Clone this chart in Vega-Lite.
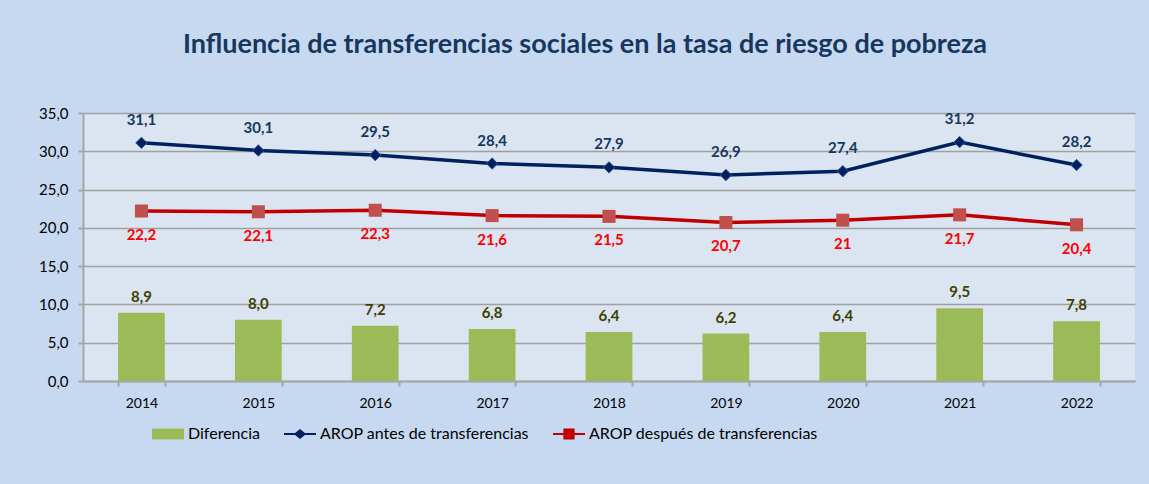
{
  "$schema": "https://vega.github.io/schema/vega-lite/v6.json",
  "width": 1052,
  "height": 268,
  "autosize": {"type": "none"},
  "padding": {"left": 83, "top": 113, "right": 14, "bottom": 103},
  "background": "#c6d9f0",
  "config": {
    "locale": {"number": {"decimal": ",", "thousands": ".", "grouping": [3], "currency": ["", " €"]}},
    "view": {"fill": "#dbe5f1", "stroke": null},
    "font": "Lato",
    "axisY": {
      "title": null,
      "format": ".1f",
      "labelOverlap": false,
      "labelFontSize": 15,
      "labelColor": "#000000",
      "labelPadding": 10,
      "gridColor": "#a0a0a0",
      "gridWidth": 1.5,
      "domainColor": "#a6a6a6",
      "domainWidth": 2,
      "tickColor": "#a6a6a6",
      "tickWidth": 2,
      "tickSize": 5
    }
  },
  "title": {
    "text": "Influencia de transferencias sociales en la tasa de riesgo de pobreza",
    "fontSize": 27,
    "fontWeight": "bold",
    "color": "#17375e",
    "anchor": "middle",
    "dx": -24,
    "offset": 47,
    "font": "Lato"
  },
  "data": {
    "values": [
      {"year": "2014", "diferencia": 8.9, "antes": 31.1, "despues": 22.2},
      {"year": "2015", "diferencia": 8.0, "antes": 30.1, "despues": 22.1},
      {"year": "2016", "diferencia": 7.2, "antes": 29.5, "despues": 22.3},
      {"year": "2017", "diferencia": 6.8, "antes": 28.4, "despues": 21.6},
      {"year": "2018", "diferencia": 6.4, "antes": 27.9, "despues": 21.5},
      {"year": "2019", "diferencia": 6.2, "antes": 26.9, "despues": 20.7},
      {"year": "2020", "diferencia": 6.4, "antes": 27.4, "despues": 21.0},
      {"year": "2021", "diferencia": 9.5, "antes": 31.2, "despues": 21.7},
      {"year": "2022", "diferencia": 7.8, "antes": 28.2, "despues": 20.4}
    ]
  },
  "encoding": {
    "x": {
      "field": "year",
      "type": "ordinal",
      "scale": {"paddingInner": 0.6, "paddingOuter": 0.3},
      "axis": {
        "title": null,
        "labelAngle": 0,
        "labelFontSize": 14,
        "labelColor": "#000000",
        "labelPadding": 10,
        "domainColor": "#a6a6a6",
        "domainWidth": 2,
        "tickColor": "#a6a6a6",
        "tickWidth": 2,
        "tickSize": 5,
        "tickBand": "extent",
        "grid": false
      }
    }
  },
  "layer": [
    {
      "mark": {"type": "bar"},
      "encoding": {
        "y": {
          "field": "diferencia",
          "type": "quantitative",
          "scale": {"domain": [0, 35]},
          "axis": {"values": [0, 5, 10, 15, 20, 25, 30, 35]}
        },
        "color": {
          "datum": "Diferencia",
          "scale": {
            "domain": ["Diferencia", "AROP antes de transferencias", "AROP después de transferencias"],
            "range": ["#9bbb59", "#002060", "#c00000"]
          },
          "legend": {
            "orient": "none",
            "legendX": 69,
            "legendY": 305,
            "direction": "horizontal",
            "title": null,
            "labelFontSize": 16,
            "labelLimit": 400,
            "labelColor": "#000000",
            "labelFont": "Lato",
            "labelOffset": 4,
            "columnPadding": 24,
            "symbolSize": 1024,
            "symbolStrokeWidth": 0,
            "encode": {
              "symbols": {
                "update": {
                  "shape": {"signal": "datum.value === 'Diferencia' ? 'M-1,-0.34H1V0.34H-1Z' : (datum.value === 'AROP antes de transferencias' ? 'M-1,-0.07H-0.31L0,-0.31L0.31,-0.07H1V0.07H0.31L0,0.31L-0.31,0.07H-1Z' : 'M-1,-0.07H-0.35V-0.35H0.35V-0.07H1V0.07H0.35V0.35H-0.35V0.07H-1Z')"},
                  "fill": {"signal": "datum.value === 'Diferencia' ? '#9bbb59' : (datum.value === 'AROP antes de transferencias' ? '#002060' : '#c0504d')"},
                  "stroke": {"value": "transparent"},
                  "size": {"value": 1024}
                }
              }
            }
          }
        }
      }
    },
    {
      "mark": {"type": "text", "dy": -16, "fontSize": 15, "fontWeight": "bold", "color": "#404000", "font": "Lato"},
      "encoding": {
        "y": {"field": "diferencia", "type": "quantitative", "axis": {"values": [0, 5, 10, 15, 20, 25, 30, 35]}},
        "text": {"field": "diferencia", "type": "quantitative", "format": ".1f"}
      }
    },
    {
      "mark": {"type": "line", "strokeWidth": 3.5},
      "encoding": {
        "y": {"field": "antes", "type": "quantitative", "axis": {"values": [0, 5, 10, 15, 20, 25, 30, 35]}},
        "color": {"datum": "AROP antes de transferencias"}
      }
    },
    {
      "mark": {"type": "point", "shape": "diamond", "filled": true, "size": 130, "color": "#002060", "stroke": "#2f5597", "strokeWidth": 1, "opacity": 1},
      "encoding": {
        "y": {"field": "antes", "type": "quantitative", "axis": {"values": [0, 5, 10, 15, 20, 25, 30, 35]}}
      }
    },
    {
      "mark": {"type": "text", "dy": -23, "fontSize": 15, "fontWeight": "bold", "color": "#17375e", "font": "Lato"},
      "encoding": {
        "y": {"field": "antes", "type": "quantitative", "axis": {"values": [0, 5, 10, 15, 20, 25, 30, 35]}},
        "text": {"field": "antes", "type": "quantitative", "format": ".1f"}
      }
    },
    {
      "mark": {"type": "line", "strokeWidth": 3.5},
      "encoding": {
        "y": {"field": "despues", "type": "quantitative", "axis": {"values": [0, 5, 10, 15, 20, 25, 30, 35]}},
        "color": {"datum": "AROP después de transferencias"}
      }
    },
    {
      "mark": {"type": "point", "shape": "square", "filled": true, "size": 170, "color": "#c0504d", "opacity": 1},
      "encoding": {
        "y": {"field": "despues", "type": "quantitative", "axis": {"values": [0, 5, 10, 15, 20, 25, 30, 35]}}
      }
    },
    {
      "mark": {"type": "text", "dy": 24, "fontSize": 15, "fontWeight": "bold", "color": "#ff0000", "font": "Lato"},
      "encoding": {
        "y": {"field": "despues", "type": "quantitative", "axis": {"values": [0, 5, 10, 15, 20, 25, 30, 35]}},
        "text": {"field": "despues", "type": "quantitative", "format": "~g"}
      }
    }
  ]
}
